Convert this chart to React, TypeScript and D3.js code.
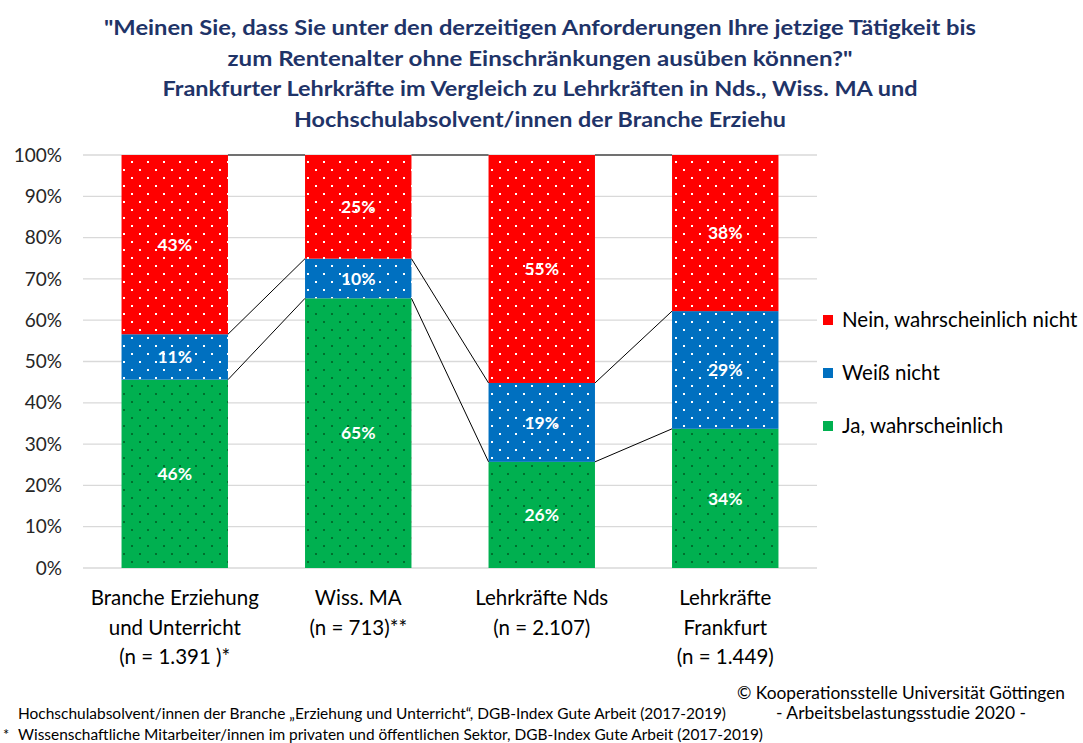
import React from 'react';
import * as d3 from 'd3';

const categories = ['Branche Erziehung und Unterricht', 'Wiss. MA', 'Lehrkräfte Nds', 'Lehrkräfte Frankfurt'];
const categoryLines = [
  ['Branche Erziehung', 'und Unterricht', '(n = 1.391 )*'],
  ['Wiss. MA', '(n = 713)**'],
  ['Lehrkräfte Nds', '(n = 2.107)'],
  ['Lehrkräfte', 'Frankfurt', '(n = 1.449)'],
];
const jaValues = [45.6, 65.3, 25.7, 33.7];
const weissValues = [11.0, 9.6, 19.1, 28.5];
const neinValues = [43.4, 25.1, 55.2, 37.8];
const jaLabels = ['46%', '65%', '26%', '34%'];
const weissLabels = ['11%', '10%', '19%', '29%'];
const neinLabels = ['43%', '25%', '55%', '38%'];
const seriesNames = ['Ja, wahrscheinlich', 'Weiß nicht', 'Nein, wahrscheinlich nicht'];
const yTicks = [0, 10, 20, 30, 40, 50, 60, 70, 80, 90, 100];

const titleLines = [
  '"Meinen Sie, dass Sie unter den derzeitigen Anforderungen Ihre jetzige Tätigkeit bis',
  'zum Rentenalter ohne Einschränkungen ausüben können?"',
  'Frankfurter Lehrkräfte im Vergleich zu Lehrkräften in Nds., Wiss. MA und',
  'Hochschulabsolvent/innen der Branche Erziehu',
];
// measured line widths of the title in the picture
const titleWidths = [872, 625, 755, 492];

const font = 'Lato, "Open Sans", sans-serif';

export default function App() {
  const width = 1083;
  const height = 743;

  const x = d3.scaleBand<string>()
    .domain(categories)
    .range([83, 817])
    .paddingInner(0.42)
    .paddingOuter(0.21);
  const y = d3.scaleLinear().domain([0, 100]).range([568, 155]);
  const bw = x.bandwidth();

  // stack the three series
  const rows = categories.map((c, i) => ({ cat: c, ja: jaValues[i], weiss: weissValues[i], nein: neinValues[i] }));
  const stack = d3.stack<any>().keys(['ja', 'weiss', 'nein']);
  const stacked = stack(rows);
  const fills = ['url(#patGreen)', 'url(#patBlue)', 'url(#patRed)'];
  const labels = [jaLabels, weissLabels, neinLabels];

  // series lines between bars (tops of each segment)
  const seriesLines: { x1: number; y1: number; x2: number; y2: number }[] = [];
  for (let i = 0; i < categories.length - 1; i++) {
    stacked.forEach((s) => {
      seriesLines.push({
        x1: x(categories[i])! + bw,
        y1: y(Math.min(100, s[i][1])),
        x2: x(categories[i + 1])!,
        y2: y(Math.min(100, s[i + 1][1])),
      });
    });
  }

  const legendColors = ['#FF0000', '#0070C0', '#00B050'];
  const legendOrder = [2, 1, 0];

  return (
    <svg width={width} height={height} style={{ position: 'absolute', left: 0, top: 0, background: '#fff' }} fontFamily={font}>
      <defs>
        <pattern id="patRed" width="16" height="16" patternUnits="userSpaceOnUse">
          <rect width="16" height="16" fill="#FF0000" />
          <rect x="3" y="1" width="2" height="2" fill="#fff" />
          <rect x="11" y="9" width="2" height="2" fill="#fff" />
        </pattern>
        <pattern id="patBlue" width="16" height="16" patternUnits="userSpaceOnUse">
          <rect width="16" height="16" fill="#0070C0" />
          <rect x="3" y="1" width="2" height="2" fill="#fff" />
          <rect x="11" y="9" width="2" height="2" fill="#fff" />
        </pattern>
        <pattern id="patGreen" width="16" height="16" patternUnits="userSpaceOnUse">
          <rect width="16" height="16" fill="#00B050" />
          <rect x="3" y="1" width="2" height="2" fill="#00702E" />
          <rect x="11" y="9" width="2" height="2" fill="#00702E" />
        </pattern>
      </defs>

      {/* title */}
      {titleLines.map((t, i) => (
        <text key={i} x={540} y={35 + i * 30.5} textAnchor="middle" fontSize={20.5} fontWeight="bold" fill="#1F3468"
          textLength={titleWidths[i]} lengthAdjust="spacingAndGlyphs">
          {t}
        </text>
      ))}

      {/* grid */}
      {yTicks.map((t) => (
        <g key={t}>
          <line x1={83} x2={817} y1={y(t)} y2={y(t)} stroke="#D9D9D9" strokeWidth={1.3} />
          <text x={62} y={y(t)} dy="0.35em" textAnchor="end" fontSize={19} fill="#262626">{t}%</text>
        </g>
      ))}

      {/* bars */}
      {stacked.map((s, si) => (
        <g key={si}>
          {s.map((d, i) => (
            <g key={i}>
              <rect x={x(categories[i])} y={y(d[1])} width={bw} height={y(d[0]) - y(d[1])} fill={fills[si]} />
              <text x={x(categories[i])! + bw / 2} y={(y(d[0]) + y(d[1])) / 2} dy="0.35em" textAnchor="middle"
                fontSize={17.5} fontWeight="bold" fill="#fff">{labels[si][i]}</text>
            </g>
          ))}
        </g>
      ))}

      {seriesLines.map((l, i) => (
        <line key={i} x1={l.x1} y1={l.y1} x2={l.x2} y2={l.y2} stroke="#000" strokeWidth={1} />
      ))}

      {/* category labels */}
      {categoryLines.map((lines, i) => (
        <text key={i} textAnchor="middle" fontSize={20.5} fill="#000">
          {lines.map((ln, j) => (
            <tspan key={j} x={x(categories[i])! + bw / 2} y={605 + j * 29.5}>{ln}</tspan>
          ))}
        </text>
      ))}

      {/* legend */}
      {legendOrder.map((k, i) => (
        <g key={k} transform={`translate(823, ${320 + i * 53})`}>
          <rect x={0} y={-5} width={10} height={10} fill={legendColors[i]} />
          <text x={19} y={0} dy="0.35em" fontSize={20.5} fill="#000">{seriesNames[k]}</text>
        </g>
      ))}

      {/* footnotes */}
      <text x={18} y={719} fontSize={14.5} fill="#000" textLength={708} lengthAdjust="spacingAndGlyphs">Hochschulabsolvent/innen der Branche „Erziehung und Unterricht“, DGB-Index Gute Arbeit (2017-2019)</text>
      <text x={3} y={740} fontSize={14.5} fill="#000">*</text>
      <text x={18} y={740} fontSize={14.5} fill="#000" textLength={745} lengthAdjust="spacingAndGlyphs">Wissenschaftliche Mitarbeiter/innen im privaten und öffentlichen Sektor, DGB-Index Gute Arbeit (2017-2019)</text>
      <text x={901} y={699} textAnchor="middle" fontSize={17} fill="#000" textLength={328} lengthAdjust="spacingAndGlyphs">© Kooperationsstelle Universität Göttingen</text>
      <text x={901} y={719} textAnchor="middle" fontSize={17} fill="#000" textLength={250} lengthAdjust="spacingAndGlyphs">- Arbeitsbelastungsstudie 2020 -</text>
    </svg>
  );
}
